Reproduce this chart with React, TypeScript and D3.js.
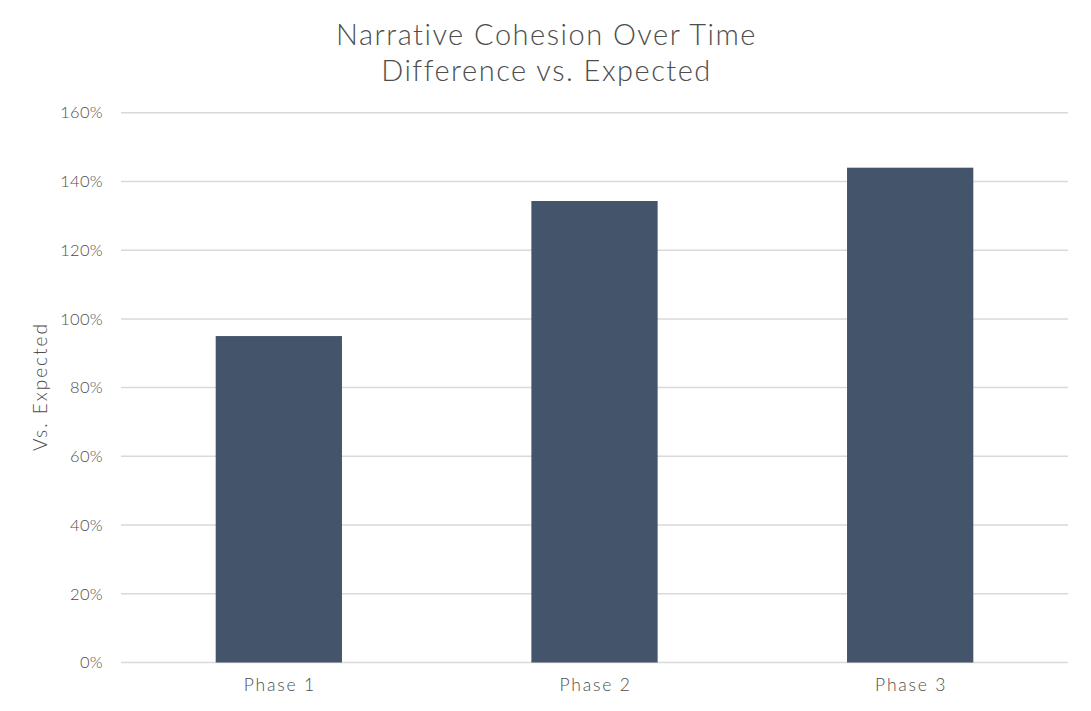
import React, { useEffect, useRef } from 'react';
import * as d3 from 'd3';

const categories = ['Phase 1', 'Phase 2', 'Phase 3'];
const values = [0.95, 1.343, 1.44];
const yTicks = [0, 0.2, 0.4, 0.6, 0.8, 1.0, 1.2, 1.4, 1.6];
const titleLines = ['Narrative Cohesion Over Time', 'Difference vs. Expected'];
const yLabel = 'Vs. Expected';

const W = 1091;
const H = 711;
const FONT = "'Lato', 'Open Sans', sans-serif";
const TEXT = '#4d4d4d';

const App: React.FC = () => {
  const svgRef = useRef<SVGSVGElement>(null);

  useEffect(() => {
    if (!svgRef.current) return;
    const margin = { top: 112.7, right: 23, bottom: 48.5, left: 121 };
    const width = W - margin.left - margin.right;
    const height = H - margin.top - margin.bottom;

    const svg = d3.select(svgRef.current);
    svg.selectAll('*').remove();

    svg.append('rect').attr('width', W).attr('height', H).attr('fill', '#ffffff');

    const g = svg.append('g').attr('transform', `translate(${margin.left},${margin.top})`);

    const x = d3.scaleBand<string>()
      .domain(categories)
      .range([0, width])
      .paddingInner(0.6)
      .paddingOuter(0.3);

    const y = d3.scaleLinear().domain([0, 1.6]).range([height, 0]);

    // Gridlines
    g.selectAll('.grid')
      .data(yTicks)
      .enter()
      .append('line')
      .attr('x1', 0)
      .attr('x2', width)
      .attr('y1', d => y(d))
      .attr('y2', d => y(d))
      .attr('stroke', '#d9d9d9')
      .attr('stroke-width', 1.5);

    // Y axis labels
    const yAxis = g.append('g')
      .call(d3.axisLeft(y).tickValues(yTicks).tickFormat(d3.format('.0%')).tickSize(0).tickPadding(18));
    yAxis.select('.domain').remove();
    yAxis.selectAll('text')
      .attr('fill', TEXT)
      .attr('font-family', FONT)
      .attr('font-weight', 300)
      .attr('font-size', 16.5)
      .attr('letter-spacing', 0.3);

    // Bars
    g.selectAll('.bar')
      .data(values)
      .enter()
      .append('rect')
      .attr('x', (_, i) => x(categories[i])!)
      .attr('width', x.bandwidth())
      .attr('y', d => y(d))
      .attr('height', d => y(0) - y(d))
      .attr('fill', '#44546a');

    // X axis labels
    const xAxis = g.append('g')
      .attr('transform', `translate(0,${height})`)
      .call(d3.axisBottom(x).tickSize(0).tickPadding(16));
    xAxis.select('.domain').remove();
    xAxis.selectAll('text')
      .attr('fill', TEXT)
      .attr('font-family', FONT)
      .attr('font-weight', 300)
      .attr('font-size', 17.5)
      .attr('letter-spacing', 1.8)
      .attr('dx', 1);

    // Y axis title
    svg.append('text')
      .attr('transform', `translate(47,${margin.top + height / 2 - 1}) rotate(-90)`)
      .attr('text-anchor', 'middle')
      .attr('fill', TEXT)
      .attr('font-family', FONT)
      .attr('font-weight', 300)
      .attr('font-size', 19)
      .attr('letter-spacing', 2)
      .text(yLabel);

    // Title
    svg.selectAll('.title')
      .data(titleLines)
      .enter()
      .append('text')
      .attr('x', W / 2 + 1)
      .attr('y', (_, i) => 45 + i * 36)
      .attr('text-anchor', 'middle')
      .attr('fill', TEXT)
      .attr('font-family', FONT)
      .attr('font-weight', 300)
      .attr('font-size', 29)
      .attr('letter-spacing', 1.5)
      .text(d => d);
  }, []);

  return (
    <div style={{ position: 'absolute', left: 0, top: 0 }}>
      <svg ref={svgRef} width={W} height={H} style={{ display: 'block' }} />
    </div>
  );
};

export default App;
